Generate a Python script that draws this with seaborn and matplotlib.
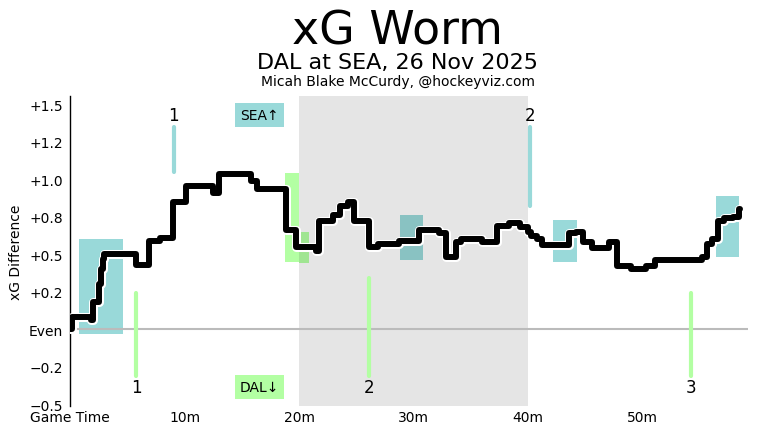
import matplotlib
matplotlib.use("Agg")
import matplotlib.pyplot as plt
import matplotlib.patheffects as pe
import pandas as pd
import seaborn as sns

# --- DATA ---
worm_t = [0.0, 0.15, 1.8, 2.0, 2.5, 2.7, 2.85, 3.0, 5.75, 6.9, 7.9, 8.95, 10.1,
          12.45, 13.0, 15.8, 16.3, 18.9, 19.7, 21.45, 21.7, 22.95, 23.6, 24.25,
          24.8, 26.1, 26.9, 28.7, 30.45, 32.2, 32.8, 33.7, 34.1, 36.0, 37.3,
          38.3, 39.3, 40.0, 40.25, 40.8, 41.2, 43.55, 44.15, 44.75, 45.6, 47.05,
          47.8, 48.95, 50.3, 51.1, 55.2, 55.6, 56.1, 56.6, 57.1, 57.9, 58.4, 58.5]
worm_xg = [0.0, 0.08, 0.06, 0.18, 0.30, 0.40, 0.47, 0.50, 0.43, 0.59, 0.61, 0.85, 0.955,
           0.91, 1.035, 0.99, 0.935, 0.66, 0.55, 0.52, 0.72, 0.76, 0.82, 0.85,
           0.72, 0.55, 0.57, 0.59, 0.66, 0.64, 0.48, 0.58, 0.60, 0.58, 0.69,
           0.71, 0.68, 0.65, 0.62, 0.60, 0.56, 0.64, 0.65, 0.58, 0.54, 0.58,
           0.42, 0.40, 0.42, 0.46, 0.48, 0.57, 0.60, 0.72, 0.74, 0.75, 0.80, 0.80]

# goals: time, and where the marker line stops near the worm
sea_goal_t = [9.05, 40.2]
sea_goal_lo = [1.05, 0.82]
dal_goal_t = [5.8, 26.15, 54.2]
dal_goal_hi = [0.24, 0.34, 0.24]

# power-play boxes
sea_pp_start = [0.75, 28.8, 42.2, 56.4]
sea_pp_end = [4.6, 30.8, 44.25, 58.45]
sea_pp_low = [-0.03, 0.46, 0.45, 0.48]
sea_pp_high = [0.60, 0.76, 0.73, 0.89]
dal_pp_start = [18.8, 20.0]
dal_pp_end = [20.0, 20.85]
dal_pp_low = [0.45, 0.44]
dal_pp_high = [1.04, 0.65]

yticks = [-0.5, -0.25, 0, 0.25, 0.5, 0.75, 1.0, 1.25, 1.5]
xticks = [0, 10, 20, 30, 40, 50]
xtick_labels = ["Game Time", "10m", "20m", "30m", "40m", "50m"]

SEA_COL = "#99d9d9"
DAL_COL = "#b3ffa3"

sns.set_style("white")
plt.rcParams["font.family"] = ["DejaVu Sans"]
plt.rcParams["text.color"] = "black"
plt.rcParams["axes.labelcolor"] = "black"
plt.rcParams["xtick.color"] = "black"
plt.rcParams["ytick.color"] = "black"

fig = plt.figure(figsize=(7.59, 4.35), dpi=100)
ax = fig.add_axes([70 / 759, 1 - 407 / 435, 678 / 759, 310 / 435])

# power plays
for s, e, lo, hi in zip(sea_pp_start, sea_pp_end, sea_pp_low, sea_pp_high):
    ax.fill_between([s, e], lo, hi, color=SEA_COL, lw=0, zorder=1)
for s, e, lo, hi in zip(dal_pp_start, dal_pp_end, dal_pp_low, dal_pp_high):
    ax.fill_between([s, e], lo, hi, color=DAL_COL, lw=0, zorder=1)

# second period shading
ax.axvspan(20, 40, color="black", alpha=0.1, lw=0, zorder=2)
ax.axhline(0, color="#bbbbbb", lw=1.5, zorder=2)

# goals
for t, lo in zip(sea_goal_t, sea_goal_lo):
    ax.plot([t, t], [1.35, lo], color=SEA_COL, lw=3, solid_capstyle="round", zorder=3)
for i, t in enumerate(sea_goal_t):
    ax.text(t, 1.43, str(i + 1), ha="center", va="center", fontsize=12)
for t, hi in zip(dal_goal_t, dal_goal_hi):
    ax.plot([t, t], [hi, -0.31], color=DAL_COL, lw=3, solid_capstyle="round", zorder=3)
for i, t in enumerate(dal_goal_t):
    ax.text(t, -0.385, str(i + 1), ha="center", va="center", fontsize=12)

# the worm
df = pd.DataFrame({"t": worm_t, "xg": worm_xg})
sns.lineplot(data=df, x="t", y="xg", ax=ax, estimator=None, sort=False,
             drawstyle="steps-post", color="black", lw=4.3, zorder=5,
             solid_joinstyle="round", solid_capstyle="round",
             path_effects=[pe.Stroke(linewidth=6.5, foreground="white"), pe.Normal()])

ax.text(16.55, 1.43, "SEA\u2191", ha="center", va="center", fontsize=10,
        bbox=dict(boxstyle="square,pad=0.35", fc=SEA_COL, ec="none"))
ax.text(16.55, -0.385, "DAL\u2193", ha="center", va="center", fontsize=10,
        bbox=dict(boxstyle="square,pad=0.35", fc=DAL_COL, ec="none"))

ax.set_xlim(0, 59.2)
ax.set_ylim(-0.51, 1.555)
ax.set_yticks(yticks)
ax.set_yticklabels(["Even" if v == 0 else f"{v:+.1f}".replace("-", "\u2212") for v in yticks])
ax.set_xticks(xticks)
ax.set_xticklabels(xtick_labels)
ax.tick_params(axis="both", length=0, labelsize=10)
ax.tick_params(axis="x", pad=3)
ax.tick_params(axis="y", pad=5)
ax.set_xlabel("")
ax.set_ylabel("xG Difference", fontsize=10)
for side in ["top", "right", "bottom"]:
    ax.spines[side].set_visible(False)
ax.spines["left"].set_color("black")
ax.spines["left"].set_linewidth(1)

fig.text(0.524, 0.926, "xG Worm", ha="center", va="center", fontsize=33)
fig.text(0.524, 0.855, "DAL at SEA, 26 Nov 2025", ha="center", va="center", fontsize=16)
fig.text(0.524, 0.812, "Micah Blake McCurdy, @hockeyviz.com", ha="center", va="center", fontsize=10)

fig.savefig("out.png", dpi=100)
